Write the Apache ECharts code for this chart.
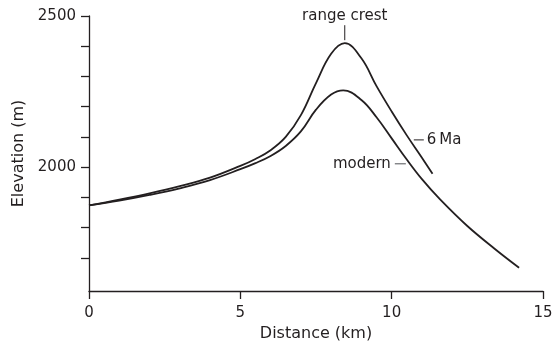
<!DOCTYPE html>
<html>
<head>
<meta charset="utf-8">
<script src="https://cdn.jsdelivr.net/npm/echarts@6/dist/echarts.min.js"></script>
<style>
html,body{margin:0;padding:0;background:#fff;}
#chart{width:554px;height:349px;}
</style>
</head>
<body>
<div id="chart"></div>
<script>
// ---- data ----
const distance6Ma = [0, 1, 2, 3, 4, 5, 5.5, 6.0, 6.5, 7.0, 7.5, 8.0, 8.45, 9.0, 9.5, 10.0, 10.5, 11.0, 11.35];
const elevation6Ma = [1873, 1892, 1913, 1937, 1965, 2004, 2027, 2056, 2100, 2172, 2278, 2375, 2410, 2360, 2268, 2184, 2105, 2031, 1978];
const distanceModern = [0, 1, 2, 3, 4, 5, 5.5, 6.0, 6.5, 7.0, 7.5, 8.0, 8.4, 9.0, 9.5, 10.0, 10.5, 11.0, 11.6, 12.5, 13.4, 14.21];
const elevationModern = [1873, 1889, 1908, 1930, 1957, 1993, 2013, 2037, 2070, 2118, 2190, 2240, 2254, 2222, 2165, 2095, 2025, 1960, 1893, 1805, 1730, 1667];
const xTickValues = [0, 5, 10, 15];
const yTickValues = [1700, 1800, 1900, 2000, 2100, 2200, 2300, 2400, 2500];
const yLabelValues = [2000, 2500];
const crestPoint = [8.45, 2410];
const label6MaPoint = [10.6, 2090];
const labelModernPoint = [10.6, 2011];

const ink = '#231f20';
const font = '"DejaVu Sans", sans-serif';

const chart = echarts.init(document.getElementById('chart'), null, {renderer: 'canvas'});

function zip(a, b) { return a.map((v, i) => [v, b[i]]); }

chart.setOption({
  animation: false,
  backgroundColor: '#fff',
  grid: {left: 89, right: 11, top: 16, bottom: 58, containLabel: false, outerBoundsMode: 'none'},
  xAxis: {
    type: 'value', min: 0, max: 15, interval: 5,
    name: 'Distance (km)', nameLocation: 'middle', nameGap: 34,
    nameTextStyle: {fontFamily: font, fontSize: 16, color: ink},
    axisLine: {show: true, onZero: false, lineStyle: {color: ink, width: 1.3}},
    axisTick: {show: true, inside: false, length: 8, lineStyle: {color: ink, width: 1.3}, customValues: xTickValues},
    axisLabel: {fontFamily: font, fontSize: 15, color: ink, margin: 15, customValues: xTickValues,
      formatter: v => String(v)},
    splitLine: {show: false}
  },
  yAxis: {
    type: 'value', min: 1590, max: 2500,
    name: 'Elevation (m)', nameLocation: 'middle', nameGap: 62, nameRotate: 90,
    nameTextStyle: {fontFamily: font, fontSize: 16, color: ink},
    axisLine: {show: true, onZero: false, lineStyle: {color: ink, width: 1.3}},
    axisTick: {show: true, inside: false, length: 8, lineStyle: {color: ink, width: 1.3}, customValues: yTickValues},
    axisLabel: {fontFamily: font, fontSize: 15, color: ink, margin: 13, customValues: yLabelValues,
      formatter: v => String(v)},
    splitLine: {show: false}
  },
  series: [
    {
      name: '6 Ma', type: 'line', data: zip(distance6Ma, elevation6Ma),
      smooth: 0.4, showSymbol: false, symbol: 'none',
      lineStyle: {color: ink, width: 1.8}
    },
    {
      name: 'modern', type: 'line', data: zip(distanceModern, elevationModern),
      smooth: 0.4, showSymbol: false, symbol: 'none',
      lineStyle: {color: ink, width: 1.8}
    }
  ]
});

// annotations anchored to data coordinates
const pc = chart.convertToPixel({gridIndex: 0}, crestPoint);
const p6 = chart.convertToPixel({gridIndex: 0}, label6MaPoint);
const pm = chart.convertToPixel({gridIndex: 0}, labelModernPoint);
const grey = '#6d6e71';
chart.setOption({
  graphic: [
    {type: 'line', shape: {x1: pc[0], y1: pc[1] - 18, x2: pc[0], y2: pc[1] - 3}, style: {stroke: ink, lineWidth: 1}},
    {type: 'text', x: pc[0], y: pc[1] - 27, style: {text: 'range crest', font: '15px ' + font, fill: ink, align: 'center', verticalAlign: 'middle'}},
    {type: 'line', shape: {x1: p6[0] + 4, y1: p6[1], x2: p6[0] + 14, y2: p6[1]}, style: {stroke: ink, lineWidth: 1}},
    {type: 'text', x: p6[0] + 17, y: p6[1], style: {text: '6\u2009Ma', font: '15px ' + font, fill: ink, align: 'left', verticalAlign: 'middle'}},
    {type: 'line', shape: {x1: pm[0] - 15, y1: pm[1], x2: pm[0] - 4, y2: pm[1]}, style: {stroke: grey, lineWidth: 1.2}},
    {type: 'text', x: pm[0] - 19, y: pm[1], style: {text: 'modern', font: '15px ' + font, fill: ink, align: 'right', verticalAlign: 'middle'}}
  ]
});
</script>
</body>
</html>
